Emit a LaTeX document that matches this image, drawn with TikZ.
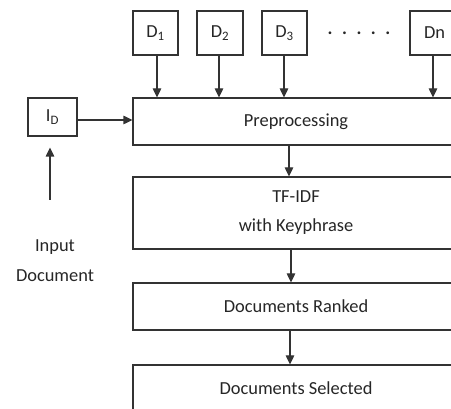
\documentclass[tikz,border=0pt]{standalone}
\usepackage{fontspec}
\setmainfont{Carlito}
\usetikzlibrary{arrows.meta}
\definecolor{linegray}{HTML}{333333}
\definecolor{textgray}{HTML}{262626}
\tikzset{
  every node/.style={font=\fontsize{18.4}{22}\selectfont, text=textgray},
  box/.style={draw=linegray, line width=1.2pt, fill=white, inner sep=0pt, align=center},
  docbox/.style={box, minimum width=45pt, minimum height=44pt},
  stagebox/.style={box, minimum width=326pt},
  flow/.style={draw=linegray, line width=1.2pt, -{Triangle[length=9pt,width=8.5pt]}}
}
\begin{document}
\begin{tikzpicture}[x=1pt,y=1pt]
\useasboundingbox (0,0) rectangle (451,-409);
\clip (0,0) rectangle (451,-409);

% source documents
\node[docbox] (d1) at (155.5,-33) {D\textsubscript{1}};
\node[docbox, minimum width=46pt] (d2) at (220,-33) {D\textsubscript{2}};
\node[docbox] (d3) at (284.5,-33) {D\textsubscript{3}};
\node (dots) at (359,-33) {\textbf{.}\hspace{9.5pt}\textbf{.}\hspace{9.5pt}\textbf{.}\hspace{9.5pt}\textbf{.}\hspace{9.5pt}\textbf{.}};
\node[docbox, minimum width=49pt] (dn) at (434.5,-33) {Dn};

% processing stages
\node[stagebox, minimum height=47pt] (pre) at (296,-121.5) {Preprocessing};
\node[stagebox, minimum height=72pt, font=\fontsize{18.4}{29}\selectfont] (tf) at (296,-213) {TF-IDF\\with Keyphrase};
\node[stagebox, minimum height=47pt] (rank) at (296,-306.5) {Documents Ranked};
\node[stagebox, minimum height=47pt] (sel) at (296,-388.5) {Documents Selected};

% input document
\node[box, minimum width=49pt, minimum height=38pt] (id) at (52.5,-117) {I\textsubscript{D}};
\node[align=center, font=\fontsize{18.4}{30}\selectfont] (inlabel) at (55,-261) {Input\\Document};
\coordinate (instart) at (50,-200);

% connectors
\foreach \d/\x in {d1/157,d2/219,d3/284,dn/433}
  \draw[flow] (\x,0 |- \d.south) -- (\x,0 |- pre.north);
\draw[flow] ([yshift=-3pt]id.east) -- ([yshift=-3pt]id.east -| pre.west);
\draw[flow] (instart) -- ([yshift=-11pt]instart |- id.south);
\draw[flow] (289,0 |- pre.south) -- (289,0 |- tf.north);
\draw[flow] (291,0 |- tf.south) -- (291,0 |- rank.north);
\draw[flow] (290,0 |- rank.south) -- (290,0 |- sel.north);
\end{tikzpicture}
\end{document}
